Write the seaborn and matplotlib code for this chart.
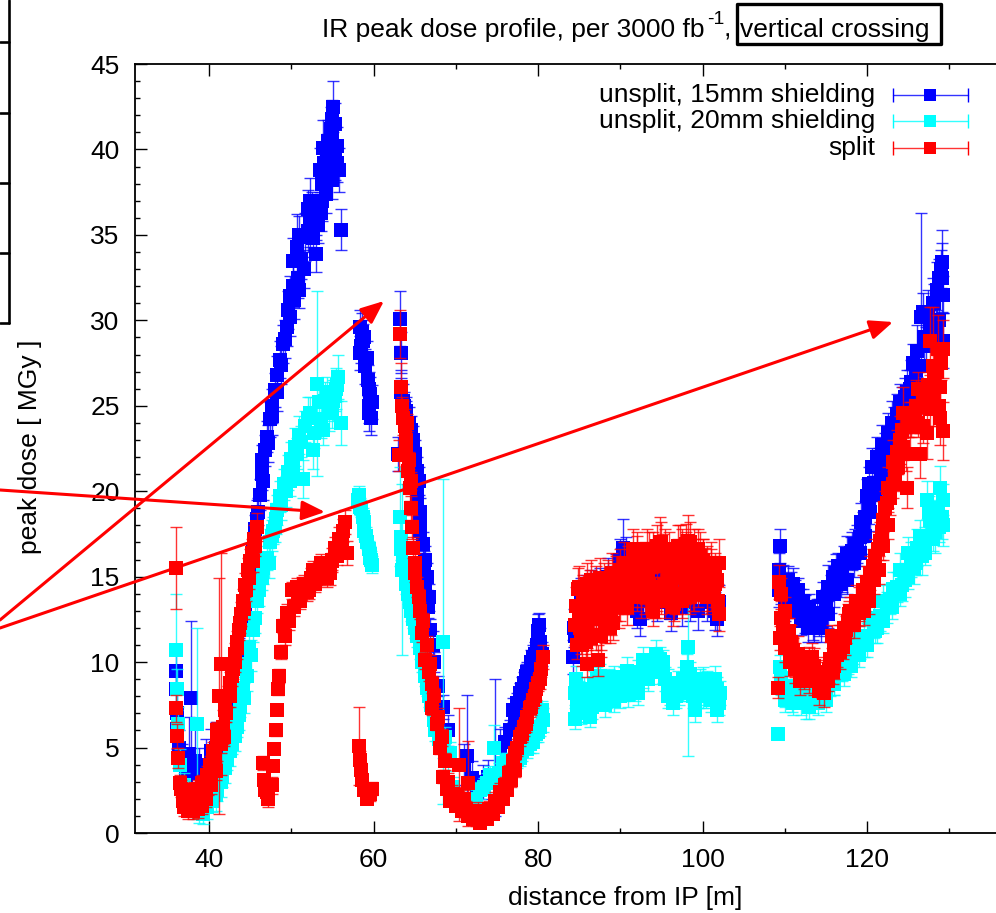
import matplotlib
matplotlib.use('Agg')
import matplotlib.pyplot as plt
from matplotlib.lines import Line2D
from matplotlib.patches import Rectangle
from matplotlib.ticker import MultipleLocator
import seaborn as sns
import pandas as pd

# unsplit, 15mm shielding
blue_x = [36, 36, 36.1, 36.1, 36.3, 36.7, 37.2, 37.6, 37.8, 38.3, 38.8, 39.6, 40.2, 40.8, 41.3, 41.8, 42.2, 42.6, 43.0, 43.4,
          43.7, 44.1, 44.4, 44.7, 45.0, 45.3, 45.6, 46.0, 46.2, 46.4, 46.4, 46.8, 47.0, 47.4, 47.7, 48.0, 48.3, 48.6, 49.0, 49.5,
          49.6, 49.8, 50.2, 50.8, 50.2, 50.7, 51.2, 51.7, 52.0, 52.3, 52.3, 53.0, 53.0, 53.7, 53.5, 53.9, 54.1, 54.5, 54.8, 55.1,
          55.3, 55.3, 55.8, 56.05,
          58.6, 58.4, 58.7, 59.0, 59.3, 59.6, 59.5, 59.4,
          63.2, 63.3, 63.3, 63.0, 63.6, 64.0, 64.3, 64.8, 65.0, 65.3, 65.3, 65.3, 65.6, 66.0, 66.1, 66.3, 66.6, 66.9, 67.4, 67.9, 68.4, 69.0,
          71.0, 71.4, 72.0, 72.6, 73.3, 73.9, 74.8, 75.4, 76.0, 76.6, 77.2, 77.5, 77.8, 78.3, 78.7, 79.1, 79.6, 80.0, 80.2, 80.5,
          84.3, 84.5, 85.0, 85.5, 86.0, 87.0, 88.0, 89.0, 90.0, 90.3, 90.5, 91.0, 92.0, 92.4, 93.0, 94.0, 95.0, 96.0, 96.5, 97.0, 98.0, 98.5, 99.0, 100.0, 101.0, 101.8, 102.0,
          109.4, 109.3, 109.3, 109.8, 110.4, 111.0, 111.6, 112.2, 113.0, 113.9, 114.7, 115.3, 115.9, 116.5, 117.2, 118.0, 118.5, 119.1, 119.5, 119.8, 120.0, 120.3, 120.6, 121.2, 121.8, 122.6, 123.0, 123.6, 124.3, 124.9, 125.4, 125.9, 126.1, 126.6, 126.9, 127.4, 128.0, 128.5, 129.1, 129.1, 129.2, 128.8]
blue_y = [9.5, 8.4, 7.0, 6.1, 5.0, 4.2, 3.4, 4.6, 7.9, 4.2, 3.5, 4.0, 4.8, 5.0, 5.2, 5.4, 6.2, 7.4, 8.5, 9.6,
          10.6, 12.0, 13.0, 14.2, 15.4, 16.6, 17.8, 18.8, 19.8, 21.0, 21.8, 22.4, 23.2, 24.2, 25.0, 25.9, 26.8, 27.7, 28.6, 29.6,
          30.6, 31.4, 32.0, 32.5, 33.5, 34.3, 33.6, 34.9, 35.2, 35.7, 37.0, 33.9, 36.0, 37.0, 38.8, 40.1, 38.4, 40.5, 41.2, 42.5,
          41.5, 39.8, 38.8, 35.3,
          29.3, 28.1, 28.8, 27.3, 26.5, 25.7, 24.6, 25.0,
          30.1, 28.1, 26.1, 22.2, 25.3, 24.4, 24.0, 23.0, 22.2, 21.2, 20.0, 19.4, 17.7, 16.9, 15.8, 14.6, 13.2, 11.9, 10.0, 8.6, 7.4, 6.0,
          4.0, 4.5, 3.2, 2.7, 3.0, 3.3, 5.0, 5.0, 5.3, 6.0, 6.8, 7.6, 8.2, 8.8, 9.4, 10.0, 10.5, 11.8, 11.2, 10.5,
          10.3, 11.5, 12.5, 13.0, 13.3, 13.2, 13.5, 14.5, 16.0, 16.7, 15.5, 14.5, 13.0, 12.5, 14.0, 14.5, 15.0, 13.5, 14.0, 15.0, 14.0, 13.5, 14.0, 14.5, 14.0, 12.5, 13.5,
          16.8, 15.4, 14.2, 14.8, 14.8, 14.6, 14.2, 13.6, 13.2, 12.9, 13.8, 14.4, 15.0, 15.6, 16.0, 16.4, 16.9, 17.3, 17.9, 18.5, 19.7, 20.4, 21.4, 22.0, 22.7, 23.4, 24.0, 24.5, 24.9, 25.8, 26.4, 27.1, 28.2, 30.2, 29.0, 30.3, 31.0, 31.8, 33.4, 32.5, 28.8, 30.0]
blue_err = [1.1, 1.0, 1.2, 1.2, 1.0, 1.0, 1.5, 2.2, 4.5, 2.5, 1.5, 1.5, 1.3, 1.5, 1.0, 1.0, 0.8, 0.8, 0.8, 0.9,
            0.8, 0.9, 0.8, 0.8, 0.8, 0.8, 0.8, 0.8, 0.9, 0.9, 0.9, 0.9, 0.9, 1.0, 1.0, 1.0, 1.1, 1.1, 1.1, 1.1,
            1.1, 1.2, 1.2, 1.2, 1.3, 1.9, 1.2, 1.4, 1.2, 1.4, 1.3, 1.1, 1.3, 1.2, 1.3, 1.6, 1.0, 1.2, 1.3, 1.5,
            1.2, 1.6, 1.3, 1.2,
            1.1, 1.0, 1.0, 1.0, 0.9, 1.0, 1.1, 1.0,
            1.6, 1.2, 1.0, 1.0, 1.0, 0.9, 0.9, 0.8, 0.8, 0.8, 0.8, 0.7, 0.7, 0.7, 0.7, 0.6, 0.6, 0.6, 0.6, 0.6, 0.7, 0.9,
            1.2, 3.6, 1.0, 0.7, 1.0, 1.0, 4.0, 1.1, 0.9, 0.6, 0.6, 0.6, 0.6, 0.6, 0.6, 0.7, 0.7, 1.0, 0.8, 0.7,
            1.0, 1.0, 0.9, 1.0, 1.0, 1.0, 1.1, 1.1, 1.2, 1.7, 1.2, 1.2, 1.0, 1.0, 1.1, 1.1, 1.1, 1.0, 1.1, 1.1, 1.0, 1.1, 1.0, 1.1, 1.1, 1.0, 1.0,
            1.0, 1.0, 1.0, 0.9, 0.8, 0.9, 0.7, 0.7, 0.8, 0.8, 0.9, 1.3, 0.9, 0.8, 0.8, 0.9, 0.9, 0.9, 0.9, 0.9, 1.0, 1.0, 1.1, 1.2, 1.2, 1.2, 1.3, 1.2, 1.2, 1.3, 1.3, 1.4, 1.5, 6.1, 1.6, 1.5, 1.5, 1.6, 1.9, 2.0, 1.6, 1.6]

blue_rise_x = [44.3, 44.8, 45.3, 45.8, 46.6, 47.2, 47.6, 48.3, 48.8, 49.2, 49.9, 50.3, 50.9, 51.5, 51.0, 52.0, 52.7, 52.5, 53.3, 53.7, 54.0, 54.3, 54.6, 54.9, 55.0, 55.5, 55.5, 55.0, 54.2, 53.6]
blue_rise_y = [12.8, 14.8, 16.2, 18.4, 20.6, 22.8, 24.4, 25.8, 27.4, 28.9, 30.2, 31.2, 31.8, 33.0, 35.0, 36.5, 34.8, 36.4, 35.6, 38.0, 39.2, 39.8, 39.3, 40.8, 41.8, 40.2, 39.2, 38.2, 37.4, 36.3]
blue_isle_x = [58.3, 58.9, 58.5, 59.2, 59.4, 59.8, 59.7]
blue_isle_y = [29.6, 29.0, 28.5, 27.8, 26.0, 25.2, 24.3]
blue_fall_x = [63.4, 63.7, 63.9, 64.6, 64.4, 65.1, 65.5, 65.6, 65.7, 66.2, 66.5, 66.7, 67.2]
blue_fall_y = [25.8, 25.0, 24.7, 23.6, 22.8, 21.8, 20.6, 18.8, 18.0, 16.0, 15.0, 13.8, 11.0]
blue_up_x = [77.0, 77.7, 78.0, 78.5, 79.0, 79.4, 79.9, 80.1]
blue_up_y = [7.2, 7.0, 8.4, 9.2, 9.0, 10.3, 11.0, 12.2]
blue_flat_x = [84.4, 85.2, 85.8, 86.5, 87.5, 88.5, 89.5, 90.1, 90.7, 91.3, 91.8, 92.8, 93.5, 94.5, 95.5, 96.2, 97.5, 98.2, 99.5, 100.5, 101.5]
blue_flat_y = [12.0, 13.8, 14.0, 14.3, 14.4, 15.0, 15.2, 15.6, 16.2, 15.2, 14.0, 13.6, 15.6, 13.5, 14.3, 12.9, 13.2, 14.9, 13.0, 13.5, 13.0]
blue_end_x = [109.6, 110.2, 110.7, 111.3, 111.9, 112.5, 113.4, 114.2, 115.0, 115.6, 116.2, 116.9, 117.6, 118.2, 118.8, 119.3, 119.7, 120.2, 120.9, 121.5, 122.2, 122.9, 123.3, 124.0, 124.6, 125.2, 125.6, 126.3, 126.8, 127.2, 127.7, 128.2, 128.7, 129.0, 129.2, 128.4]
blue_end_y = [14.5, 14.0, 14.2, 13.7, 13.2, 12.8, 12.4, 12.6, 13.2, 14.0, 15.2, 15.2, 16.3, 16.5, 16.9, 18.2, 17.4, 19.2, 20.5, 21.4, 22.3, 23.0, 23.8, 25.2, 25.5, 26.0, 27.5, 27.3, 30.5, 28.5, 29.5, 31.0, 32.5, 33.0, 31.5, 29.5]
blue_low_x = [110.0, 110.6, 111.2, 112.0, 112.8, 113.6, 114.4, 115.2, 116.0, 116.8, 117.6, 118.4, 119.2]
blue_low_y = [13.2, 13.6, 13.0, 12.4, 12.0, 12.0, 12.0, 12.8, 14.0, 14.6, 14.8, 15.8, 16.4]
blue_top_x = [120.4, 121.0, 121.7, 122.4, 123.0, 123.6, 124.2, 124.8, 125.4, 126.0]
blue_top_y = [18.8, 19.8, 20.9, 21.6, 22.6, 23.0, 23.6, 24.5, 25.5, 26.2]

# unsplit, 20mm shielding
cyan_x = [36, 36.1, 36.2, 36.5, 37.0, 37.6, 38.5, 38.8, 39.3, 39.8, 40.4, 41.0, 41.6, 42.2, 42.8, 43.4, 43.8, 44.1, 44.4, 44.9,
          45.3, 45.8, 46.4, 47.0, 47.4, 47.8, 48.0, 48.3, 48.6, 49.1, 49.6, 50.0, 50.5, 51.0, 51.4, 52.0, 52.6, 53.1, 53.6, 54.1,
          54.6, 55.1, 55.4, 55.7, 56.0,
          58.1, 58.4, 58.7, 58.9, 59.2, 59.6, 59.8,
          63.2, 63.3, 63.5, 63.6, 64.0, 64.4, 64.8, 65.3, 65.9, 66.5, 67.0, 67.3, 68.5, 68.7, 69.3, 69.7, 70.5,
          72.0, 73.0, 73.8, 74.7, 75.2, 75.8, 76.6, 77.4, 78.0, 78.7, 79.4, 80.0, 80.6,
          84.6, 84.5, 84.7, 85.2, 85.7, 86.3, 87.2, 87.8, 88.4, 89.2, 90.0, 90.8, 91.8, 92.8, 93.4, 94.4, 95.2, 95.8, 96.4, 97.2, 98.1, 98.2, 99.1, 99.7, 100.4, 101.0, 101.8, 101.5, 102.1,
          109.2, 109.4, 109.6, 110.0, 110.6, 111.4, 112.2, 113.0, 113.9, 115.0, 116.0, 117.2, 118.3, 119.2, 120.0, 120.8, 121.6, 122.4, 123.2, 124.0, 124.6, 125.4, 126.1, 126.7, 127.3, 127.7, 128.3, 128.9, 129.1, 129.2]
cyan_y = [10.7, 8.4, 6.4, 4.0, 2.8, 2.0, 6.4, 1.2, 1.1, 1.5, 1.9, 2.5, 3.3, 4.3, 5.2, 6.2, 7.4, 8.5, 9.9, 10.9,
          11.9, 13.6, 14.9, 16.1, 17.0, 17.7, 17.9, 18.9, 19.7, 20.4, 21.1, 21.9, 22.6, 23.3, 20.7, 24.3, 22.4, 26.3, 24.2, 25.3,
          24.6, 25.3, 26.0, 26.7, 24.0,
          19.5, 19.1, 18.5, 17.7, 17.0, 16.1, 15.7,
          18.5, 17.3, 15.4, 15.8, 14.6, 13.5, 12.5, 11.5, 10.0, 8.5, 7.5, 6.6, 11.2, 5.6, 4.7, 2.7, 2.0,
          1.6, 2.5, 2.9, 5.0, 3.5, 4.1, 4.1, 4.3, 4.8, 4.9, 5.3, 5.9, 6.6,
          9.0, 6.7, 7.7, 7.0, 7.6, 6.8, 9.0, 8.6, 8.0, 7.7, 8.0, 9.5, 8.4, 10.1, 9.0, 10.5, 9.5, 8.8, 7.6, 8.2, 9.7, 10.9, 7.2, 8.8, 8.0, 7.8, 7.2, 9.0, 8.2,
          5.8, 9.7, 8.8, 8.0, 8.4, 7.9, 8.0, 7.8, 8.2, 8.3, 8.7, 9.3, 10.7, 11.0, 11.5, 12.3, 12.7, 13.2, 14.3, 15.4, 14.8, 16.0, 16.7, 16.2, 19.5, 18.3, 17.6, 20.2, 18.5, 18.0]
cyan_err = [3.3, 1.2, 1.0, 0.9, 0.7, 0.8, 5.6, 0.6, 0.6, 0.7, 0.7, 0.6, 0.6, 0.6, 0.6, 0.6, 0.6, 0.6, 0.6, 0.7,
            0.7, 0.7, 0.7, 0.7, 0.8, 0.8, 0.9, 0.9, 0.9, 0.9, 1.0, 1.0, 1.1, 1.1, 1.1, 1.2, 1.1, 5.4, 1.1, 1.1,
            1.1, 1.2, 1.2, 1.3, 1.3,
            0.5, 0.5, 0.5, 0.5, 0.4, 0.5, 0.5,
            2.9, 1.0, 5.0, 0.7, 0.6, 0.6, 0.5, 0.6, 0.6, 0.5, 0.5, 0.5, 9.5, 0.6, 0.6, 0.6, 0.5,
            0.4, 0.5, 0.6, 1.3, 0.6, 0.6, 0.5, 0.5, 0.6, 0.5, 0.6, 0.6, 0.7,
            0.8, 0.6, 0.7, 0.6, 0.7, 0.6, 0.7, 0.7, 0.7, 0.6, 0.7, 0.8, 0.7, 0.8, 0.7, 0.8, 0.7, 0.8, 0.7, 0.7, 0.8, 6.4, 0.7, 0.8, 0.7, 0.7, 0.7, 0.8, 0.7,
            0.3, 0.7, 0.6, 0.6, 0.6, 0.6, 0.6, 0.6, 0.6, 0.6, 0.6, 0.7, 0.8, 0.8, 0.8, 0.9, 0.9, 0.9, 1.0, 1.0, 1.0, 1.0, 1.1, 1.1, 1.1, 1.2, 1.2, 1.3, 1.3, 1.2]

cyan_rise_x = [40.8, 41.4, 42.0, 42.5, 43.1, 43.6, 44.2, 44.6, 45.1, 45.6, 46.1, 46.6, 47.3, 47.6, 48.2, 48.8, 49.3, 49.8, 50.2, 50.7, 51.2, 51.7, 52.3, 52.8, 53.4, 53.9, 54.4, 54.9, 55.3, 55.6]
cyan_rise_y = [2.2, 3.0, 3.8, 4.8, 5.7, 6.9, 7.9, 9.2, 10.4, 12.6, 14.2, 15.5, 15.8, 17.4, 18.4, 19.2, 20.0, 20.6, 21.4, 22.2, 22.9, 23.8, 24.6, 23.4, 25.2, 23.6, 25.8, 24.6, 25.6, 26.2]
cyan_isle_x = [58.2, 58.5, 58.8, 59.1, 59.4, 59.6, 59.7]
cyan_isle_y = [19.8, 19.0, 18.2, 17.4, 16.6, 16.3, 16.0]
cyan_fall_x = [63.4, 64.2, 64.6, 65.1, 65.6, 66.2, 66.8, 67.5, 68.0, 68.5, 69.0]
cyan_fall_y = [16.6, 14.0, 13.0, 12.0, 10.8, 9.2, 8.0, 6.0, 5.5, 5.0, 4.2]
cyan_up_x = [72.5, 73.4, 74.2, 75.0, 76.2, 77.0, 77.8, 78.4, 79.0, 79.7, 80.3, 80.5]
cyan_up_y = [2.0, 2.7, 3.4, 3.2, 4.2, 4.0, 4.4, 5.4, 5.2, 5.8, 6.2, 7.2]
cyan_flat_x = [84.5, 84.8, 85.4, 85.9, 86.6, 86.9, 87.5, 88.1, 88.8, 89.5, 90.4, 91.2, 92.2, 93.1, 93.9, 94.8, 95.5, 96.1, 96.8, 97.6, 98.5, 98.8, 99.4, 100.0, 100.7, 101.2, 101.7, 102.0]
cyan_flat_y = [8.2, 7.2, 8.0, 7.2, 7.4, 8.2, 9.2, 7.5, 8.4, 8.8, 9.0, 9.0, 9.4, 9.6, 9.8, 10.2, 9.0, 8.2, 8.0, 9.0, 9.3, 8.0, 8.2, 8.0, 8.6, 8.3, 8.0, 7.6]
cyan_mid_x = [84.6, 85.0, 85.6, 86.2, 86.8, 87.4, 88.0, 88.6, 89.2, 89.8, 90.4, 91.0, 91.6, 92.2, 92.8, 93.4, 94.0, 94.6, 95.2, 95.8, 96.4, 97.0, 97.6, 98.2, 98.8, 99.4, 100.0, 100.6, 101.2, 101.8]
cyan_mid_y = [8.6, 8.2, 8.4, 8.0, 8.8, 8.0, 8.8, 8.9, 9.1, 8.4, 8.4, 8.1, 8.6, 8.2, 9.2, 9.8, 9.4, 9.8, 10.0, 8.0, 8.4, 8.8, 8.4, 8.4, 8.6, 8.0, 9.0, 8.8, 8.6, 8.4]
cyan_end_x = [109.5, 110.3, 110.9, 111.8, 112.6, 113.4, 114.4, 115.5, 116.5, 117.7, 118.8, 119.6, 120.4, 121.2, 122.0, 122.8, 123.6, 124.3, 125.0, 125.7, 126.4, 127.0, 127.5, 128.0, 128.6, 128.8, 129.2]
cyan_end_y = [9.0, 8.6, 8.0, 8.2, 7.6, 7.9, 8.6, 8.9, 9.8, 10.2, 11.5, 11.2, 12.6, 12.0, 13.6, 13.7, 14.4, 14.5, 16.4, 15.5, 17.4, 17.0, 18.8, 18.0, 19.0, 17.9, 19.5]
cyan_low_x = [110.0, 111.0, 112.0, 113.0, 114.0, 115.0, 116.0, 117.0, 118.0, 119.0, 120.0, 121.0, 122.0, 123.0, 124.0, 125.0, 126.0, 127.0, 128.0]
cyan_low_y = [7.8, 7.6, 7.6, 7.4, 7.6, 7.8, 8.8, 9.6, 9.8, 10.4, 11.0, 11.8, 12.4, 13.2, 14.0, 15.0, 15.8, 16.4, 17.2]

# split
red_x = [36, 36, 36.1, 36.2, 36.5, 36.8, 37.3, 37.9, 38.4, 38.9, 39.4, 39.9, 40.3, 40.7, 41.0, 41.2, 41.4, 41.7, 41.9, 42.3,
         42.6, 42.9, 43.2, 43.4, 43.6, 43.9, 44.1, 44.4, 44.7, 45.0, 45.2, 45.5, 45.8,
         46.8, 46.7, 46.6, 47.0, 47.8, 47.9, 48.1, 48.3, 48.4, 48.5, 48.8, 49.0, 49.5, 50.1, 50.7, 51.3, 51.9, 52.4, 52.9, 53.4, 54.1, 54.7, 55.0, 55.3, 55.8, 56.3, 56.5, 56.8,
         58.2, 58.4, 58.5, 58.6, 58.8, 59.2, 59.6, 59.8,
         63.2, 63.3, 63.6, 63.8, 63.1, 64.0, 64.2, 64.4, 64.5, 64.7, 64.8, 65.0, 65.3, 65.7, 65.9, 66.3, 66.7, 67.1, 67.1, 67.7, 68.1, 68.5, 68.9, 69.3, 70.0, 70.4, 70.8, 71.5, 71.5, 72.1, 73.0, 73.8, 74.5, 75.1, 75.7, 76.2, 76.7, 77.2, 77.2, 77.8, 78.3, 78.7, 79.0, 79.4, 79.8, 80.2, 80.6,
         84.7, 84.6, 85.1, 85.9, 87.3, 86.5, 87.5, 88.3, 89.1, 89.6, 90.2, 90.8, 91.4, 92.0, 92.2, 92.8, 93.4, 94.0, 94.8, 94.8, 95.2, 95.8, 96.4, 96.8, 97.3, 97.8, 98.2, 98.8, 99.3, 99.7, 100.3, 100.9, 101.5, 102.0, 101.9, 102.0,
         109.2, 109.3, 109.5, 110.0, 109.8, 109.4, 110.5, 111.0, 111.4, 111.9, 112.6, 113.3, 113.9, 114.5, 115.2, 115.9, 115.7, 116.4, 117.1, 117.5, 117.9, 118.7, 119.5, 120.0, 120.4, 121.0, 121.6, 122.0, 122.4, 122.6, 124.9, 123.2, 123.6, 124.0, 124.4, 125.2, 125.9, 126.5, 126.5, 127.3, 128.9, 128.9, 129.2, 128.0, 128.6, 127.7, 129.2]
red_y = [15.5, 7.3, 5.7, 4.4, 2.9, 1.9, 1.7, 1.7, 1.8, 2.1, 2.4, 2.9, 3.5, 4.4, 5.2, 8.0, 9.9, 6.2, 7.2, 8.0,
         8.8, 9.6, 10.5, 11.2, 11.9, 12.8, 13.6, 14.5, 15.4, 15.9, 16.4, 17.2, 17.9,
         2.5, 3.1, 4.1, 2.4, 3.9, 4.9, 6.0, 7.2, 8.4, 9.2, 10.6, 12.1, 12.9, 14.2, 14.4, 14.4, 14.1, 14.9, 14.6, 15.2, 15.4, 15.2, 16.0, 16.7, 17.2, 17.7, 18.2, 16.4,
         5.1, 4.3, 3.7, 3.1, 2.5, 2.0, 2.3, 2.6,
         29.2, 26.1, 24.3, 23.8, 22.1, 22.4, 21.2, 20.2, 19.0, 17.9, 16.7, 15.8, 14.4, 13.0, 11.7, 10.1, 9.4, 8.7, 7.3, 6.4, 5.0, 3.3, 2.6, 1.9, 1.6, 4.0, 1.3, 2.9, 1.0, 0.8, 0.6, 0.8, 1.1, 1.5, 2.0, 2.5, 3.1, 3.7, 4.7, 5.6, 6.2, 6.8, 7.3, 7.8, 8.4, 9.0, 10.3,
         11.0, 13.3, 12.0, 9.9, 10.1, 13.8, 12.6, 13.0, 12.3, 13.8, 14.2, 13.2, 14.6, 16.3, 14.8, 15.6, 15.0, 13.0, 14.4, 17.0, 16.2, 15.4, 13.2, 15.0, 16.6, 15.6, 17.1, 14.0, 15.2, 16.2, 15.5, 14.6, 15.0, 15.8, 13.6, 12.8,
         8.5, 14.7, 14.0, 13.0, 12.2, 11.4, 11.8, 10.7, 10.0, 9.5, 9.2, 10.3, 9.4, 8.5, 8.9, 9.4, 11.5, 10.4, 10.9, 11.9, 13.0, 13.6, 14.2, 14.7, 15.2, 16.2, 17.1, 18.3, 19.3, 20.2, 20.2, 21.7, 22.3, 23.0, 24.6, 23.8, 25.0, 24.9, 22.2, 23.4, 26.1, 24.3, 23.5, 27.3, 28.3, 28.8, 28.3]
red_err = [2.4, 0.8, 0.7, 0.6, 0.5, 0.4, 0.4, 0.4, 0.5, 0.5, 0.6, 0.7, 0.9, 1.0, 1.0, 6.9, 6.5, 1.0, 0.7, 0.6,
           0.6, 0.6, 0.6, 0.6, 0.6, 0.7, 0.7, 0.7, 0.7, 0.7, 0.8, 0.8, 0.8,
           0.3, 0.3, 0.4, 0.3, 0.3, 0.3, 0.3, 0.3, 0.3, 0.4, 0.4, 0.4, 0.5, 0.5, 0.5, 0.6, 0.5, 0.6, 0.5, 0.7, 0.7, 0.7, 0.7, 0.6, 0.7, 0.7, 0.7, 0.7,
           2.3, 0.5, 0.4, 0.3, 0.3, 0.3, 0.4, 0.4,
           1.4, 1.4, 1.0, 1.0, 0.9, 0.9, 0.8, 0.8, 0.7, 0.7, 0.6, 0.6, 0.6, 0.5, 0.5, 0.5, 0.5, 0.5, 0.4, 0.4, 0.4, 0.4, 0.3, 0.3, 0.3, 3.3, 0.3, 2.5, 0.3, 0.2, 0.2, 0.2, 0.3, 0.3, 0.3, 0.3, 0.4, 0.4, 0.4, 0.5, 0.5, 0.5, 0.5, 0.5, 0.6, 0.6, 0.7,
           0.8, 1.1, 1.0, 0.8, 0.9, 1.4, 1.0, 1.1, 1.0, 1.0, 1.0, 1.0, 1.0, 1.3, 1.0, 1.2, 1.0, 0.9, 1.2, 1.5, 1.3, 1.2, 1.1, 1.3, 1.4, 1.2, 1.5, 1.0, 1.3, 1.4, 1.2, 1.1, 1.2, 1.4, 1.0, 1.0,
           0.6, 1.0, 0.9, 0.8, 0.8, 0.7, 0.8, 0.7, 0.6, 0.6, 0.6, 0.8, 0.6, 0.6, 0.6, 0.7, 0.7, 0.7, 0.7, 0.8, 0.8, 0.9, 0.9, 0.9, 1.0, 1.0, 1.1, 1.1, 1.2, 1.2, 1.2, 1.3, 1.3, 1.4, 1.5, 1.4, 1.5, 1.5, 1.4, 1.5, 1.5, 1.6, 1.7, 3.5, 2.0, 2.0, 1.7]

red_base_x = [36.6, 37.0, 37.6, 38.2, 38.7, 39.2, 39.7, 40.1, 40.5, 41.0, 36.9, 37.5, 38.1, 38.6, 39.1, 39.6, 40.2, 40.9, 41.4, 41.8, 42.1]
red_base_y = [2.6, 2.4, 2.4, 2.5, 2.6, 2.9, 3.4, 4.0, 4.8, 6.0, 1.5, 1.3, 1.3, 1.4, 1.6, 2.0, 2.8, 3.6, 5.2, 5.6, 7.0]
red_rise_x = [42.5, 42.8, 43.1, 43.4, 43.8, 44.2, 44.5, 44.9, 45.3, 45.6]
red_rise_y = [8.0, 9.2, 10.0, 10.8, 12.3, 13.1, 14.2, 14.9, 15.9, 16.8]
red_mid_x = [47.2, 47.6, 49.2, 49.7, 50.3, 50.8, 51.1, 51.6, 52.1, 52.6, 53.1, 53.6, 54.3, 54.9, 55.5, 56.0, 56.2]
red_mid_y = [2.0, 2.8, 11.5, 12.4, 13.2, 13.8, 13.6, 14.6, 14.2, 15.4, 15.0, 15.8, 14.9, 15.9, 16.2, 16.6, 17.2]
red_fall_x = [63.5, 63.9, 64.1, 64.3, 64.6, 65.1, 65.5, 66.0, 66.5, 66.9, 67.4, 67.9, 68.3, 68.7, 69.1, 69.6, 70.2, 70.6, 71.0, 71.2, 71.8, 72.4, 72.7, 73.4, 74.0, 74.8, 75.4, 76.0, 76.5, 77.0, 77.5, 78.0, 78.5, 79.2, 79.6, 80.0, 80.4]
red_fall_y = [25.0, 23.0, 24.0, 21.8, 20.6, 15.2, 13.8, 12.4, 11.0, 9.9, 8.0, 6.8, 5.6, 4.2, 3.0, 2.3, 2.2, 1.6, 2.0, 1.4, 1.2, 0.9, 1.3, 1.0, 1.4, 1.9, 2.4, 2.8, 3.5, 4.2, 5.0, 5.8, 6.4, 7.4, 8.0, 8.8, 9.6]
red_flat_x = [84.5, 84.9, 85.3, 85.7, 86.0, 86.3, 86.8, 87.0, 87.7, 88.0, 88.6, 88.9, 89.3, 89.9, 90.5, 91.0, 91.2, 91.7, 92.3, 92.5, 93.0, 93.2, 93.7, 94.2, 94.5, 95.0, 95.5, 95.9, 96.2, 96.7, 97.0, 97.5, 98.0, 98.5, 99.0, 99.5, 100.0, 100.5, 101.0, 101.4, 101.8]
red_flat_y = [12.2, 14.3, 11.0, 13.0, 12.0, 14.2, 12.5, 13.2, 11.5, 13.8, 13.6, 12.8, 14.6, 13.2, 14.8, 14.2, 15.4, 15.6, 15.6, 13.8, 14.6, 16.6, 14.0, 13.8, 15.8, 15.6, 14.6, 16.4, 14.2, 14.0, 16.0, 15.0, 16.4, 15.0, 16.6, 14.8, 16.0, 14.2, 15.8, 14.4, 14.8]
red_row1_x = [85.0, 85.5, 86.0, 86.5, 87.0, 87.5, 88.0, 88.5, 89.0, 89.5, 90.0, 90.5, 91.0, 91.5, 92.0, 92.5, 93.0, 93.5, 94.0, 94.5, 95.0, 95.5, 96.0, 96.5, 97.0, 97.5, 98.0, 98.5, 99.0, 99.5, 100.0, 100.5, 101.0, 101.5]
red_row1_y = [13.0, 12.6, 13.6, 13.4, 13.6, 13.4, 13.4, 13.6, 13.2, 13.4, 13.4, 13.8, 13.8, 14.2, 14.0, 14.2, 13.8, 14.6, 13.6, 14.0, 13.8, 13.6, 14.6, 13.4, 13.8, 13.6, 14.4, 13.8, 14.0, 14.2, 14.6, 13.8, 14.0, 14.6]
red_row2_x = [85.0, 85.5, 86.0, 86.5, 87.0, 87.5, 88.0, 88.5, 89.0, 89.5, 90.0, 90.5, 91.0, 91.5, 92.0, 92.5, 93.0, 93.5, 94.0, 94.5, 95.0, 95.5, 96.0, 96.5, 97.0, 97.5, 98.0, 98.5, 99.0, 99.5, 100.0, 100.5, 101.0, 101.5]
red_row2_y = [14.4, 13.9, 14.6, 14.8, 14.4, 14.9, 14.6, 14.8, 15.2, 15.0, 15.4, 15.8, 15.6, 16.6, 16.2, 15.2, 15.8, 16.4, 16.4, 16.8, 17.0, 16.6, 15.6, 15.6, 16.8, 16.6, 16.9, 17.0, 16.0, 16.6, 16.0, 15.6, 15.4, 15.2]
red_row3_x = [85.2, 85.8, 86.4, 87.0, 87.6, 88.2, 88.8]
red_row3_y = [11.4, 11.2, 11.4, 11.6, 11.6, 12.0, 12.0]
red_end_x = [109.6, 110.3, 110.8, 111.2, 111.6, 112.2, 112.9, 113.6, 114.2, 114.8, 115.5, 116.0, 116.7, 117.3, 117.7, 118.3, 119.0, 119.7, 120.2, 120.7, 121.3, 121.8, 122.2, 122.8, 123.4, 123.8, 124.2, 124.7, 125.4, 125.8, 126.2, 126.8, 127.2, 127.6, 128.2, 128.5, 128.7, 129.0]
red_end_y = [12.6, 11.6, 11.2, 10.1, 10.5, 9.8, 9.9, 9.8, 9.1, 9.3, 10.2, 10.8, 10.6, 11.4, 12.4, 12.8, 13.4, 14.0, 14.4, 15.6, 16.6, 17.6, 19.0, 19.6, 21.0, 22.0, 23.6, 22.2, 24.2, 24.4, 26.0, 23.8, 25.5, 24.8, 26.5, 27.0, 25.0, 27.5]
red_low_x = [110.0, 110.6, 111.2, 111.8, 112.4, 113.0, 113.6, 114.2, 114.8, 115.4, 116.0, 116.6, 117.2, 117.8, 118.4, 119.0, 119.6, 120.2, 120.8, 121.4, 122.0, 122.6, 123.2, 123.8, 124.4, 125.0, 125.6, 126.2, 126.8, 127.4, 128.0]
red_low_y = [10.8, 10.0, 9.6, 8.9, 9.2, 9.0, 8.9, 8.3, 8.2, 9.6, 9.8, 11.4, 12.0, 12.8, 12.2, 12.9, 13.0, 13.6, 14.8, 15.4, 16.8, 18.0, 20.4, 21.4, 22.6, 24.0, 24.2, 24.0, 25.6, 26.2, 25.6]

names = ['unsplit, 15mm shielding', 'unsplit, 20mm shielding', 'split']
colors = ['#0000ff', '#00ffff', '#ff0000']
bands = [[(blue_x, blue_y, blue_err), (blue_rise_x, blue_rise_y, 1.1), (blue_isle_x, blue_isle_y, 1.0), (blue_fall_x, blue_fall_y, 0.8),
          (blue_up_x, blue_up_y, 0.7), (blue_flat_x, blue_flat_y, 1.1), (blue_end_x, blue_end_y, 1.1), (blue_low_x, blue_low_y, 0.8), (blue_top_x, blue_top_y, 1.1)],
         [(cyan_x, cyan_y, cyan_err), (cyan_rise_x, cyan_rise_y, 0.9), (cyan_isle_x, cyan_isle_y, 0.5), (cyan_fall_x, cyan_fall_y, 0.6),
          (cyan_up_x, cyan_up_y, 0.5), (cyan_flat_x, cyan_flat_y, 0.7), (cyan_mid_x, cyan_mid_y, 0.7), (cyan_end_x, cyan_end_y, 0.9), (cyan_low_x, cyan_low_y, 0.7)],
         [(red_x, red_y, red_err), (red_base_x, red_base_y, 0.5), (red_rise_x, red_rise_y, 0.6), (red_mid_x, red_mid_y, 0.5),
          (red_fall_x, red_fall_y, 0.5), (red_flat_x, red_flat_y, 1.2), (red_row1_x, red_row1_y, 1.0), (red_row2_x, red_row2_y, 1.2), (red_row3_x, red_row3_y, 0.9),
          (red_end_x, red_end_y, 1.0), (red_low_x, red_low_y, 0.8)]]

W, H = 996, 913
sns.set_theme(style='ticks')
plt.rcParams['font.family'] = ['Liberation Sans', 'DejaVu Sans']
plt.rcParams['text.color'] = 'black'
plt.rcParams['axes.labelcolor'] = 'black'


def fx(px):
    return px / W


def fy(py):
    return 1 - py / H


fig = plt.figure(figsize=(W / 100, H / 100), dpi=100)
# the right side of the axes runs off the picture, as in the reference
ax = fig.add_axes([fx(135), fy(833), (998.6 - 135) / W, (833 - 64) / H])

for i, col in enumerate(colors):
    frames = []
    for xs, ys, errs in bands[i]:
        frames.append(pd.DataFrame({'x': xs, 'y': ys, 'err': errs}))
    df = pd.concat(frames, ignore_index=True)
    ax.errorbar(df['x'], df['y'], yerr=df['err'], fmt='none', ecolor=col, elinewidth=1.0,
                capsize=4.3, capthick=1.0, alpha=0.8, zorder=2 + i * 2)
    sns.scatterplot(data=df, x='x', y='y', color=col, marker='s', s=92, linewidth=0,
                    ax=ax, zorder=3 + i * 2, legend=False)

ax.set_xlim(31, 136)
ax.set_ylim(0, 45)
ax.xaxis.set_major_locator(MultipleLocator(20))
ax.xaxis.set_minor_locator(MultipleLocator(10))
ax.yaxis.set_major_locator(MultipleLocator(5))
ax.yaxis.set_minor_locator(MultipleLocator(1))
ax.tick_params(which='major', direction='in', length=8.6, width=1.0, top=True, right=False,
               labelsize=19, pad=11, colors='black')
ax.tick_params(which='minor', direction='in', length=3.8, width=1.0, top=True, right=False, colors='black')
for s in ax.spines.values():
    s.set_linewidth(1.3)
    s.set_color('black')

ax.set_xlabel('distance from IP [m]', fontsize=19, va='center')
ax.set_ylabel('peak dose [ MGy ]', fontsize=19, va='center')
ax.xaxis.set_label_coords((625 - 135) / 863.6, -(898 - 833) / 769)
ax.yaxis.set_label_coords((30 - 135) / 863.6, (833 - 447) / 769)

# title in pieces so the exponent keeps a short hyphen
fig.text(fx(322), fy(37), 'IR peak dose profile, per 3000 fb', fontsize=19, ha='left', va='baseline')
fig.text(fx(707), fy(24), '-1', fontsize=14, ha='left', va='baseline')
fig.text(fx(724), fy(37), ',', fontsize=19, ha='left', va='baseline')
fig.text(fx(740), fy(37), 'vertical crossing', fontsize=19, ha='left', va='baseline')
fig.add_artist(Rectangle((fx(736.5), fy(44.5)), (941 - 736.5) / W, 40.5 / H, transform=fig.transFigure,
                         fc='none', ec='black', lw=2.4, joinstyle='round'))

# legend, gnuplot style
for name, col, py in zip(names, colors, [95, 121, 148]):
    fig.text(fx(875), fy(py), name, fontsize=19, ha='right', va='center')
    fig.add_artist(Line2D([fx(893), fx(968)], [fy(py), fy(py)], color=col, lw=1.0, alpha=0.8, zorder=20))
    fig.add_artist(Line2D([fx(893), fx(968)], [fy(py), fy(py)], color=col, ls='none', marker='|', ms=10, mew=1.0, zorder=20))
    fig.add_artist(Line2D([fx(930)], [fy(py)], color=col, ls='none', marker='s', ms=8.6, mew=0, zorder=21))

# cropped axis of a neighbouring panel at top left
fig.add_artist(Line2D([fx(9), fx(9)], [fy(0), fy(323)], color='black', lw=1.9))
for py in [42, 113, 183, 253, 323]:
    fig.add_artist(Line2D([fx(0), fx(9)], [fy(py), fy(py)], color='black', lw=1.9))

# red arrows coming in from the left
for tail, tip in [((0, 490), (325, 512)), ((0, 620), (384, 301)), ((0, 628), (893, 322))]:
    ax.annotate('', xy=(fx(tip[0]), fy(tip[1])), xycoords='figure fraction',
                xytext=(fx(tail[0]), fy(tail[1])), textcoords='figure fraction',
                arrowprops=dict(arrowstyle='-|>,head_length=1.0,head_width=0.42', color='#ff0000', lw=2.2,
                                mutation_scale=14, shrinkA=0, shrinkB=0),
                annotation_clip=False, zorder=30)

fig.savefig('out.png', dpi=100)
